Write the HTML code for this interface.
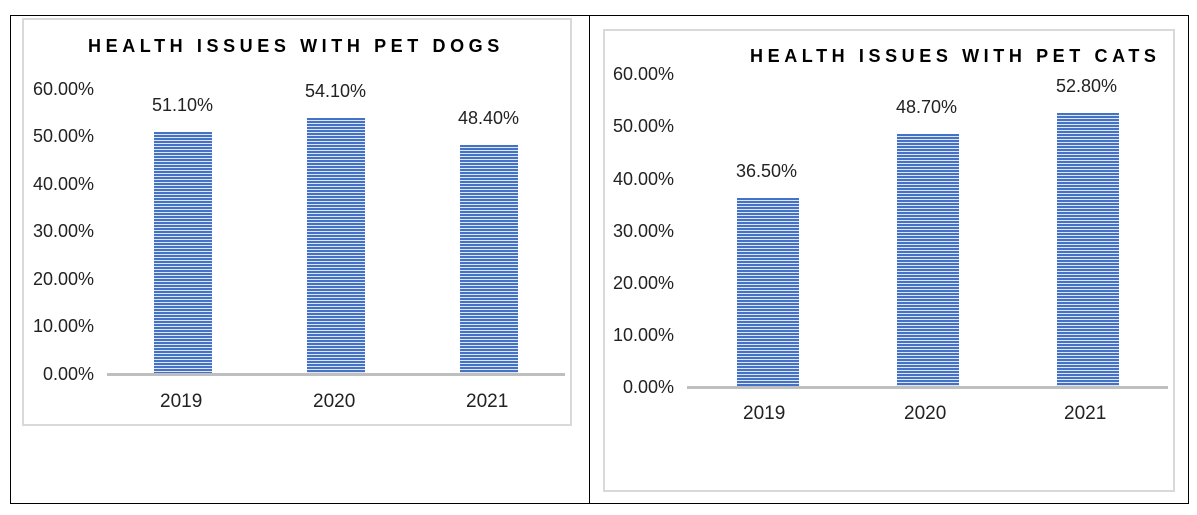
<!DOCTYPE html>
<html><head><style>
body{margin:0;background:#fff;width:1197px;height:515px;position:relative;overflow:hidden;font-family:"Liberation Sans",sans-serif;}
.a{position:absolute}
.bar{position:absolute;background:repeating-linear-gradient(to bottom,#4472c4 0px,#4472c4 2px,#dfe6f5 2px,#dfe6f5 3px);}
.t{position:absolute;font-size:18px;color:#222;white-space:nowrap}
.yl{position:absolute;font-size:18px;color:#222;text-align:right;width:84px}
.tt{position:absolute;font-size:18px;font-weight:bold;letter-spacing:4.6px;color:#000;white-space:nowrap}
</style></head><body>
<div class="a" style="left:10px;top:15px;width:1177px;height:487px;border:1px solid #000"></div>
<div class="a" style="left:589px;top:15px;width:1px;height:488px;background:#000"></div>
<div class="a" style="left:22px;top:18px;width:546px;height:404px;border:2px solid #d9d9d9"></div>
<div class="a" style="left:603px;top:29px;width:568px;height:459px;border:2px solid #d9d9d9"></div>

<div class="tt" style="left:88px;top:36px">HEALTH ISSUES WITH PET DOGS</div>
<div class="yl" style="left:10px;top:79px">60.00%</div>
<div class="yl" style="left:10px;top:126px">50.00%</div>
<div class="yl" style="left:10px;top:174px">40.00%</div>
<div class="yl" style="left:10px;top:221px">30.00%</div>
<div class="yl" style="left:10px;top:269px">20.00%</div>
<div class="yl" style="left:10px;top:316px">10.00%</div>
<div class="yl" style="left:10px;top:364px">0.00%</div>
<div class="bar" style="left:154px;top:132px;width:58px;height:242px"></div>
<div class="bar" style="left:307px;top:118px;width:58px;height:256px"></div>
<div class="bar" style="left:460px;top:145px;width:58px;height:229px"></div>
<div class="a" style="left:107px;top:373px;width:458px;height:3px;background:#bfbfbf"></div>
<div class="t" style="left:152px;top:95px">51.10%</div>
<div class="t" style="left:305px;top:81px">54.10%</div>
<div class="t" style="left:458px;top:108px">48.40%</div>
<div class="t" style="left:160px;top:391px;font-size:19px">2019</div>
<div class="t" style="left:313px;top:391px;font-size:19px">2020</div>
<div class="t" style="left:466px;top:391px;font-size:19px">2021</div>

<div class="tt" style="left:750px;top:46px">HEALTH ISSUES WITH PET CATS</div>
<div class="yl" style="left:590px;top:64px">60.00%</div>
<div class="yl" style="left:590px;top:116px">50.00%</div>
<div class="yl" style="left:590px;top:169px">40.00%</div>
<div class="yl" style="left:590px;top:221px">30.00%</div>
<div class="yl" style="left:590px;top:273px">20.00%</div>
<div class="yl" style="left:590px;top:325px">10.00%</div>
<div class="yl" style="left:590px;top:377px">0.00%</div>
<div class="bar" style="left:737px;top:198px;width:62px;height:189px"></div>
<div class="bar" style="left:897px;top:134px;width:62px;height:253px"></div>
<div class="bar" style="left:1057px;top:113px;width:62px;height:274px"></div>
<div class="a" style="left:687px;top:386px;width:481px;height:3px;background:#bfbfbf"></div>
<div class="t" style="left:736px;top:161px">36.50%</div>
<div class="t" style="left:896px;top:97px">48.70%</div>
<div class="t" style="left:1056px;top:76px">52.80%</div>
<div class="t" style="left:743px;top:403px;font-size:19px">2019</div>
<div class="t" style="left:904px;top:403px;font-size:19px">2020</div>
<div class="t" style="left:1064px;top:403px;font-size:19px">2021</div>
</body></html>
